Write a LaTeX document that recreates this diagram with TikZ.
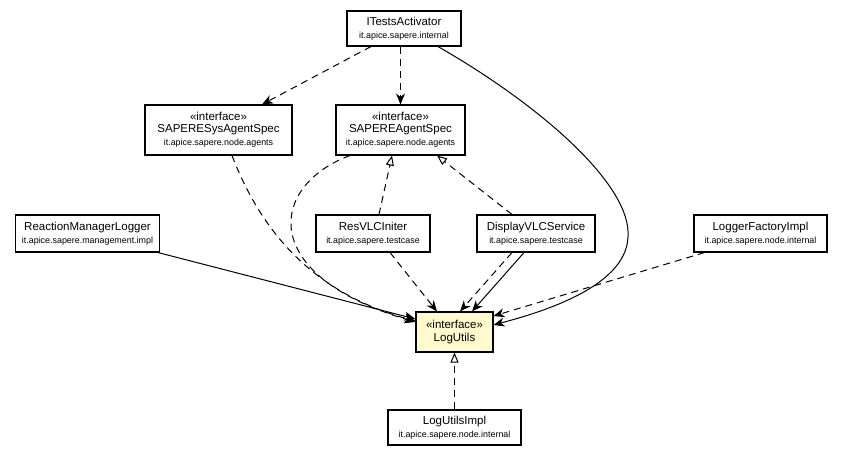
\documentclass[tikz,border=0pt]{standalone}
\usepackage{fontspec}
\setmainfont{Liberation Sans}
\usetikzlibrary{arrows.meta}
\definecolor{noteyellow}{RGB}{255,250,205}
\tikzset{
  cls/.style={draw=black, line width=1.1pt, fill=white, inner sep=0pt, align=center},
  dep/.style={line width=1pt, dash pattern=on 7pt off 5pt, -{Stealth[length=11pt,width=9pt,inset=3.5pt]}},
  assoc/.style={line width=1pt, -{Stealth[length=11pt,width=9pt,inset=3.5pt]}},
  realize/.style={line width=1pt, dash pattern=on 7pt off 5pt, -{Triangle[open,length=10pt,width=8pt,fill=white]}},
}
\newcommand{\cname}[1]{{\fontsize{11.5}{13.5}\selectfont #1}}
\newcommand{\pname}[1]{{\fontsize{8.9}{11}\selectfont #1}}
\begin{document}
\begin{tikzpicture}[x=1pt,y=-1pt]
\useasboundingbox (0,0) rectangle (844,459);

\node[cls, minimum width=114pt, minimum height=35pt] (ita) at (404,28.5)
  {\cname{ITestsActivator}\\[1pt]\pname{it.apice.sapere.internal}};
\node[cls, minimum width=147pt, minimum height=50pt] (sss) at (218.5,130)
  {\cname{«interface»}\\[0pt]\cname{SAPERESysAgentSpec}\\[1.5pt]\pname{it.apice.sapere.node.agents}};
\node[cls, minimum width=129pt, minimum height=50pt] (sas) at (400.5,130)
  {\cname{«interface»}\\[0pt]\cname{SAPEREAgentSpec}\\[1.5pt]\pname{it.apice.sapere.node.agents}};
\node[cls, minimum width=144pt, minimum height=37pt] (rml) at (87.5,233.5)
  {\cname{ReactionManagerLogger}\\[1pt]\pname{it.apice.sapere.management.impl}};
\node[cls, minimum width=114pt, minimum height=37pt] (rvi) at (373,233.5)
  {\cname{ResVLCIniter}\\[1pt]\pname{it.apice.sapere.testcase}};
\node[cls, minimum width=118pt, minimum height=37pt] (dvs) at (536,233.5)
  {\cname{DisplayVLCService}\\[1pt]\pname{it.apice.sapere.testcase}};
\node[cls, minimum width=133pt, minimum height=37pt] (lfi) at (760.5,233.5)
  {\cname{LoggerFactoryImpl}\\[1pt]\pname{it.apice.sapere.node.internal}};
\node[cls, fill=noteyellow, minimum width=77pt, minimum height=40pt] (lu) at (454.5,332)
  {\cname{«interface»}\\[1pt]\cname{LogUtils}};
\node[cls, minimum width=133pt, minimum height=35pt] (lui) at (454.5,427.5)
  {\cname{LogUtilsImpl}\\[1pt]\pname{it.apice.sapere.node.internal}};

\coordinate (bend) at (628,237);

% ITestsActivator dependencies
\draw[dep] ([xshift=-33pt]ita.south) -- ([xshift=43.5pt]sss.north);
\draw[dep] (sas.north |- ita.south) -- (sas.north);
\draw[assoc] ([xshift=34pt]ita.south) .. controls (540,105) and (632,185) .. (bend)
  .. controls (626,290) and (530,315) .. ([yshift=7pt]lu.east);

% interfaces to LogUtils
\draw[dep] ([xshift=13.5pt]sss.south) .. controls (255,215) and (300,290) .. ([yshift=11pt]lu.west);
\draw[dep] ([xshift=-50.5pt]sas.south) .. controls (270,185) and (255,275) .. ([yshift=10pt]lu.west);

% realizations of SAPEREAgentSpec
\draw[realize] ([xshift=6pt]rvi.north) -- ([xshift=-8.5pt]sas.south);
\draw[realize] ([xshift=-24pt]dvs.north) -- ([xshift=36.5pt]sas.south);

% others to LogUtils
\draw[assoc] ([xshift=-2pt]rml.south east) -- ([yshift=13pt]lu.west);
\draw[dep] ([xshift=17pt]rvi.south) -- ([xshift=-17.5pt]lu.north);
\draw[dep] ([xshift=-24pt]dvs.south) -- ([xshift=5.5pt]lu.north);
\draw[assoc] ([xshift=-12pt]dvs.south) -- ([xshift=17.5pt]lu.north);
\draw[dep] ([xshift=11pt]lfi.south west) -- ([yshift=16pt]lu.east);

% LogUtilsImpl realizes LogUtils
\draw[realize] (lui.north) -- (lu.south);
\end{tikzpicture}
\end{document}
